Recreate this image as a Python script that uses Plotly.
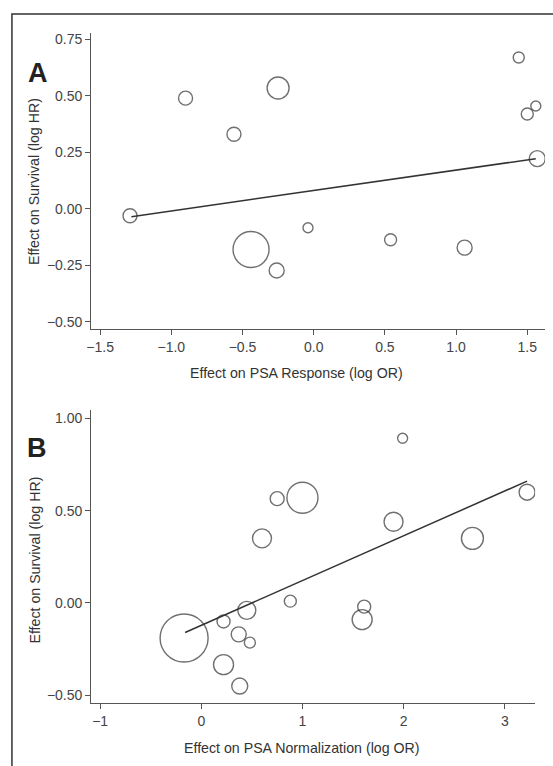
import plotly.graph_objects as go

W, H = 553, 766

# Panel A data
a_x = [-0.90, -0.56, -0.25, 1.44, 1.56, 1.50, 1.57, -1.29, -0.44, -0.26, -0.04, 0.54, 1.06]
a_y = [0.49, 0.33, 0.535, 0.67, 0.455, 0.42, 0.222, -0.031, -0.18, -0.273, -0.084, -0.137, -0.172]
a_size = [14, 14, 22, 11, 10, 12, 16, 14, 36, 15, 10, 12, 15]
a_line_x = [-1.28, 1.56]
a_line_y = [-0.035, 0.222]
a_xticks = [-1.5, -1.0, -0.5, 0.0, 0.5, 1.0, 1.5]
a_xtext = ["\u22121.5", "\u22121.0", "\u22120.5", "0.0", "0.5", "1.0", "1.5"]
a_yticks = [-0.5, -0.25, 0.0, 0.25, 0.5, 0.75]
a_ytext = ["\u22120.50", "\u22120.25", "0.00", "0.25", "0.50", "0.75"]

# Panel B data
b_x = [0.75, 0.60, 1.00, 1.99, 3.22, 1.90, 2.68, -0.17, 0.22, 0.45, 0.37, 0.48, 0.22, 0.38, 0.88, 1.61, 1.59]
b_y = [0.565, 0.35, 0.57, 0.892, 0.60, 0.44, 0.35, -0.19, -0.10, -0.04, -0.17, -0.215, -0.334, -0.45, 0.01, -0.02, -0.09]
b_size = [14, 19, 31, 10, 16, 19, 22, 48, 13, 18, 15, 11, 20, 16, 12, 13, 20]
b_line_x = [-0.16, 3.22]
b_line_y = [-0.16, 0.66]
b_xticks = [-1, 0, 1, 2, 3]
b_xtext = ["\u22121", "0", "1", "2", "3"]
b_yticks = [-0.5, 0.0, 0.5, 1.0]
b_ytext = ["\u22120.50", "0.00", "0.50", "1.00"]

INK = "#333333"
AX = "#555555"
FONT = "Liberation Sans, Arial, sans-serif"

fig = go.Figure()

fig.add_trace(go.Scatter(x=a_line_x, y=a_line_y, mode="lines",
                         line=dict(color=INK, width=1.5), xaxis="x", yaxis="y", showlegend=False))
fig.add_trace(go.Scatter(x=a_x, y=a_y, mode="markers",
                         marker=dict(symbol="circle-open", size=a_size, color=INK,
                                     line=dict(width=1.4, color=INK)),
                         xaxis="x", yaxis="y", showlegend=False))
fig.add_trace(go.Scatter(x=b_line_x, y=b_line_y, mode="lines",
                         line=dict(color=INK, width=1.5), xaxis="x2", yaxis="y2", showlegend=False))
fig.add_trace(go.Scatter(x=b_x, y=b_y, mode="markers",
                         marker=dict(symbol="circle-open", size=b_size, color=INK,
                                     line=dict(width=1.4, color=INK)),
                         xaxis="x2", yaxis="y2", showlegend=False))

def px_x(p):
    return p / W

def px_y(p):
    return 1 - p / H

axis_common = dict(showline=True, linecolor=AX, linewidth=1.2, ticks="outside", ticklen=5,
                   tickcolor=AX, tickwidth=1, showgrid=False, zeroline=False,
                   tickfont=dict(family=FONT, size=14, color="#444444"), tickmode="array")

fig.update_layout(
    width=W, height=H, margin=dict(l=0, r=0, t=0, b=0),
    plot_bgcolor="white", paper_bgcolor="white",
    xaxis=dict(domain=[px_x(87), px_x(545)], range=[-1.5625, 1.625], anchor="y",
               tickvals=a_xticks, ticktext=a_xtext, **axis_common),
    yaxis=dict(domain=[px_y(328), px_y(31)], range=[-0.531, 0.779], anchor="x",
               tickvals=a_yticks, ticktext=a_ytext, **axis_common),
    xaxis2=dict(domain=[px_x(87), px_x(535)], range=[-1.088, 3.30], anchor="y2",
                tickvals=b_xticks, ticktext=b_xtext, **axis_common),
    yaxis2=dict(domain=[px_y(704), px_y(410)], range=[-0.543, 1.043], anchor="x2",
                tickvals=b_yticks, ticktext=b_ytext, **axis_common),
    shapes=[dict(type="rect", xref="paper", yref="paper",
                 x0=px_x(7), x1=1.05, y0=-0.05, y1=px_y(12),
                 line=dict(color=INK, width=1.5))],
)

ann = [
    dict(text="<b>A</b>", x=px_x(33), y=px_y(71), size=27),
    dict(text="<b>B</b>", x=px_x(32), y=px_y(448), size=27),
]
for a in ann:
    fig.add_annotation(text=a["text"], x=a["x"], y=a["y"], xref="paper", yref="paper",
                       showarrow=False, xanchor="center", yanchor="middle",
                       font=dict(family=FONT, size=a["size"], color="#222222"))

titles = [
    ("Effect on PSA Response (log OR)", px_x(294), px_y(372), 0),
    ("Effect on PSA Normalization (log OR)", px_x(300), px_y(749), 0),
    ("Effect on Survival (log HR)", px_x(30), px_y(180), -90),
    ("Effect on Survival (log HR)", px_x(30), px_y(560), -90),
]
for t, x, y, ang in titles:
    fig.add_annotation(text=t, x=x, y=y, xref="paper", yref="paper", showarrow=False,
                       xanchor="center", yanchor="middle", textangle=ang,
                       font=dict(family=FONT, size=14.2, color="#333333"))

fig.write_html("out.html")
